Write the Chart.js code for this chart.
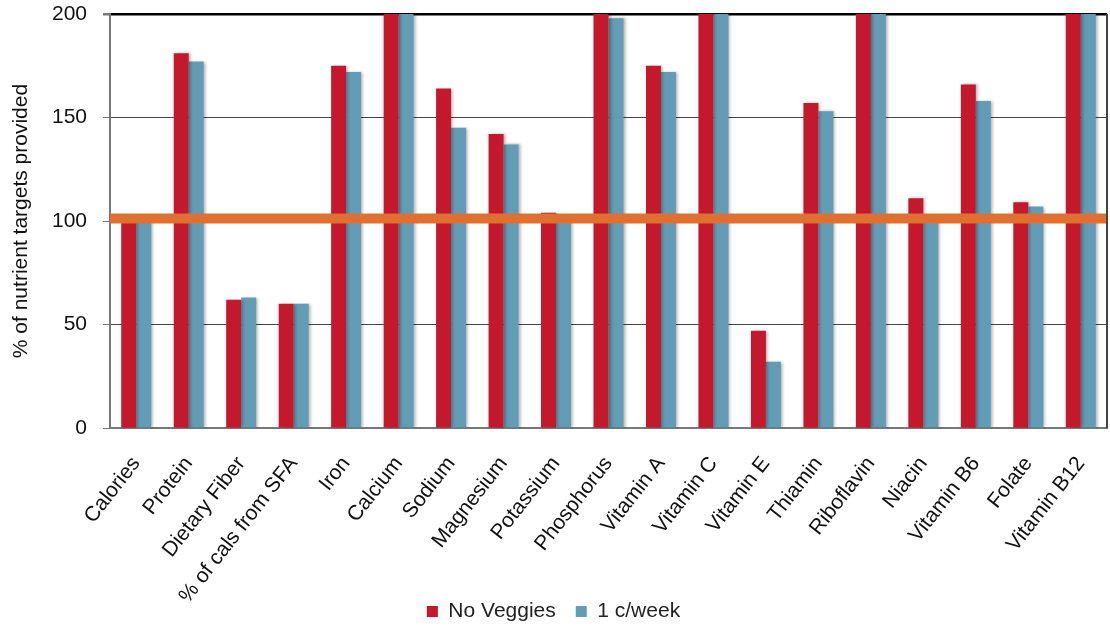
<!DOCTYPE html>
<html>
<head>
<meta charset="utf-8">
<script src="https://cdn.jsdelivr.net/npm/chart.js@4.4.1/dist/chart.umd.min.js"></script>
<style>
  html, body { margin: 0; padding: 0; background: #fff; }
  #wrap { width: 1110px; height: 631px; }
</style>
</head>
<body>
<div id="wrap"><canvas id="miGrafico" width="1110" height="631"></canvas></div>
<script>
const labels = ['Calories', 'Protein', 'Dietary Fiber', '% of cals from SFA', 'Iron', 'Calcium', 'Sodium',
    'Magnesium', 'Potassium', 'Phosphorus', 'Vitamin A', 'Vitamin C', 'Vitamin E', 'Thiamin',
    'Riboflavin', 'Niacin', 'Vitamin B6', 'Folate', 'Vitamin B12'];
const noVeggies = [100, 181, 62, 60, 175, 200, 164, 142, 104, 200, 175, 200, 47, 157, 200, 111, 166, 109, 200];
const oneCupWeek = [100, 177, 63, 60, 172, 200, 145, 137, 100, 198, 172, 200, 32, 153, 200, 100, 158, 107, 200];
const targetLine = 101.2;
const yTicks = [0, 50, 100, 150, 200];

const fuente = { family: 'Liberation Sans, Arial, sans-serif', size: 21 };

// sombra suave de las barras + linea naranja del 100%
const extras = {
    id: 'extras',
    beforeDatasetsDraw(chart) {
        const ctx = chart.ctx;
        ctx.save();
        ctx.shadowColor = 'rgba(0,0,0,0.3)';
        ctx.shadowBlur = 3;
        ctx.shadowOffsetX = 2;
    },
    afterDatasetsDraw(chart) {
        const ctx = chart.ctx;
        ctx.restore();
        const a = chart.chartArea;
        const y = chart.scales.y.getPixelForValue(targetLine);
        ctx.save();
        ctx.strokeStyle = '#E07032';
        ctx.lineWidth = 10;
        ctx.beginPath();
        ctx.moveTo(a.left, y);
        ctx.lineTo(a.right, y);
        ctx.stroke();
        // borde derecho
        ctx.strokeStyle = '#444';
        ctx.lineWidth = 2;
        ctx.beginPath();
        ctx.moveTo(a.right, a.top);
        ctx.lineTo(a.right, a.bottom);
        ctx.stroke();
        ctx.restore();
    }
};

const grafico = new Chart(document.getElementById('miGrafico'), {
    type: 'bar',
    data: {
        labels: labels,
        datasets: [
            { label: 'No Veggies', data: noVeggies, backgroundColor: '#C4182C' },
            { label: '1 c/week', data: oneCupWeek, backgroundColor: '#629DB5' }
        ]
    },
    options: {
        responsive: false,
        animation: false,
        layout: { padding: { top: 14, right: 3, left: 0, bottom: -1 } },
        datasets: { bar: { barPercentage: 1, categoryPercentage: 0.572 } },
        plugins: {
            legend: {
                position: 'bottom',
                labels: { font: fuente, color: '#222', boxWidth: 11, boxHeight: 11, padding: 20 }
            },
            tooltip: { enabled: false }
        },
        scales: {
            x: {
                grid: { display: false },
                border: { display: true, color: '#777', width: 2 },
                ticks: { font: fuente, color: '#111', minRotation: 52, maxRotation: 52, autoSkip: false, padding: 16 },
                afterFit: (s) => {
                    s.height = 153;
                    s.paddingLeft = 0;
                    s.paddingRight = 0;
                    // las etiquetas largas bajan hasta la altura de la leyenda
                    s._computeLabelArea = () => null;
                }
            },
            y: {
                min: 0,
                max: 200,
                afterBuildTicks: (s) => { s.ticks = yTicks.map(v => ({ value: v })); },
                grid: {
                    color: (c) => c.tick && c.tick.value === 200 ? '#000' : '#444',
                    lineWidth: (c) => c.tick && c.tick.value === 200 ? 2.5 : 1,
                    tickColor: '#777',
                    tickLength: 7
                },
                border: { display: true, color: '#777', width: 2 },
                ticks: { font: fuente, color: '#111', padding: 16 },
                title: {
                    display: true,
                    text: '% of nutrient targets provided',
                    font: fuente,
                    color: '#111',
                    padding: { top: 9, bottom: 10 }
                },
                afterFit: (s) => {
                    s.width = 110;
                    s.paddingTop = 0;
                    s.paddingBottom = 0;
                }
            }
        }
    },
    plugins: [extras]
});
</script>
</body>
</html>
